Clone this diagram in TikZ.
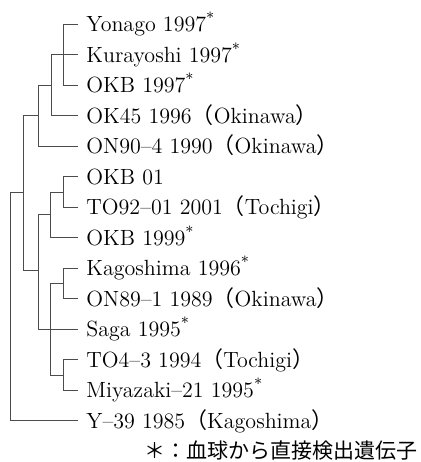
\documentclass[tikz,border=0pt]{standalone}
\usepackage{fontspec}
\newfontfamily\jpfont{Noto Sans CJK JP}
\newcommand{\fwl}{{\jpfont （}}
\newcommand{\fwr}{{\jpfont ）}}
\newcommand{\direct}{\textsuperscript{*}}

\begin{document}
\begin{tikzpicture}[x=0.5pt, y=-0.5pt,
    branch/.style={line width=0.45pt, black!70},
    leaf/.style={anchor=west, inner xsep=4pt, inner ysep=0pt,
      text height=7.5pt, text depth=0pt,
      font=\fontsize{11}{13}\selectfont},
  ]
  \useasboundingbox (0,0) rectangle (420,462);

  \def\xleaf{78}
  % leaves
  \node[leaf] (yonago) at (\xleaf,24)    {Yonago 1997\direct};
  \node[leaf] (kura)   at (\xleaf,54.5)  {Kurayoshi 1997\direct};
  \node[leaf] (okbA)   at (\xleaf,85)    {OKB 1997\direct};
  \node[leaf] (okA)    at (\xleaf,115.5) {OK45 1996\fwl Okinawa\fwr};
  \node[leaf] (onA)    at (\xleaf,146)   {ON90--4 1990\fwl Okinawa\fwr};
  \node[leaf] (okbB)   at (\xleaf,176.5) {OKB 01};
  \node[leaf] (toA)    at (\xleaf,207)   {TO92--01 2001\fwl Tochigi\fwr};
  \node[leaf] (okbC)   at (\xleaf,237.5) {OKB 1999\direct};
  \node[leaf] (kago)   at (\xleaf,268)   {Kagoshima 1996\direct};
  \node[leaf] (onB)    at (\xleaf,298.5) {ON89--1 1989\fwl Okinawa\fwr};
  \node[leaf] (saga)   at (\xleaf,329)   {Saga 1995\direct};
  \node[leaf] (toB)    at (\xleaf,359.5) {TO4--3 1994\fwl Tochigi\fwr};
  \node[leaf] (miya)   at (\xleaf,390)   {Miyazaki--21 1995\direct};
  \node[leaf] (yA)     at (\xleaf,420.5) {Y--39 1985\fwl Kagoshima\fwr};

  % internal nodes
  \coordinate (nA) at (63,54.5);
  \coordinate (nB) at (51,85);
  \coordinate (nC) at (38,115.5);
  \coordinate (nD) at (23,192);
  \coordinate (nE) at (63,192);
  \coordinate (nF) at (50,214.5);
  \coordinate (nG) at (38,270);
  \coordinate (nH) at (50,329);
  \coordinate (nI) at (63,283.5);
  \coordinate (nJ) at (63,375);
  \coordinate (nR) at (10,192);

  % branches
  \draw[branch] (nA) |- (yonago.west);
  \draw[branch] (nA) |- (kura.west);
  \draw[branch] (nA) |- (okbA.west);
  \draw[branch] (nB) |- (nA);
  \draw[branch] (nB) |- (okA.west);
  \draw[branch] (nC) |- (nB);
  \draw[branch] (nC) |- (onA.west);
  \draw[branch] (nD) |- (nC);
  \draw[branch] (nD) |- (nG);

  \draw[branch] (nE) |- (okbB.west);
  \draw[branch] (nE) |- (toA.west);
  \draw[branch] (nF) |- (nE);
  \draw[branch] (nF) |- (okbC.west);
  \draw[branch] (nG) |- (nF);
  \draw[branch] (nG) |- (nH);
  \draw[branch] (nH) |- (nI);
  \draw[branch] (nH) |- (saga.west);
  \draw[branch] (nH) |- (nJ);
  \draw[branch] (nI) |- (kago.west);
  \draw[branch] (nI) |- (onB.west);
  \draw[branch] (nJ) |- (toB.west);
  \draw[branch] (nJ) |- (miya.west);

  \draw[branch] (nR) |- (nD);
  \draw[branch] (nR) |- (yA.west);

  % footnote
  \node[anchor=east, inner sep=0pt, font=\fontsize{10.5}{13}\selectfont]
    (note) at (418,451) {\jpfont ＊：血球から直接検出遺伝子};
\end{tikzpicture}
\end{document}
